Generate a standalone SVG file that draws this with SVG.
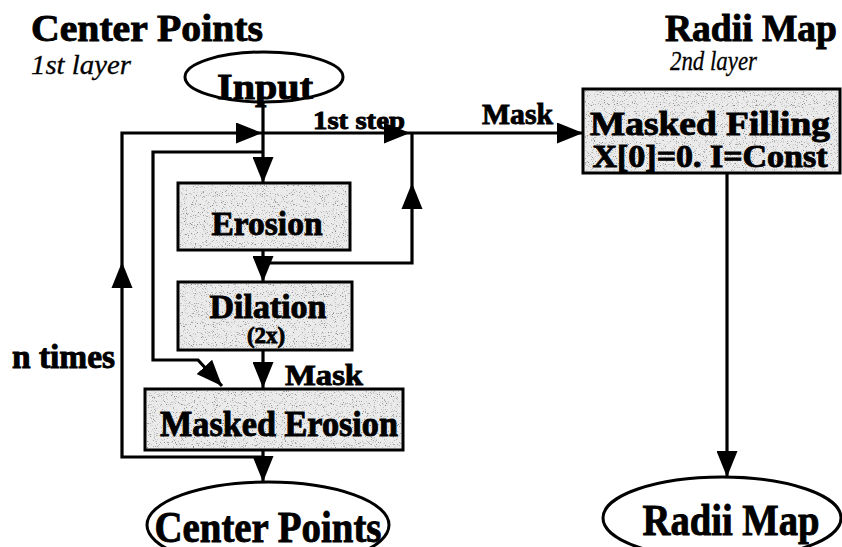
<svg xmlns="http://www.w3.org/2000/svg" width="842" height="547" viewBox="0 0 842 547">
  <style>
    .t { font-family: "Liberation Serif", "Times New Roman", serif; font-weight: bold; fill: #000; stroke: #000; stroke-width: 0.9; }
    .it { font-family: "Liberation Serif", "Times New Roman", serif; font-style: italic; fill: #000; stroke: #000; stroke-width: 0.3; }
    .box { fill: #ebebeb; stroke: #000; stroke-width: 3; }
    .oval { fill: #fff; stroke: #000; stroke-width: 3; }
    .wire { fill: none; stroke: #000; stroke-width: 3.2; }
    .head { fill: #000; }
  </style>
  <defs>
    <marker id="arrow" viewBox="0 0 26 21" refX="26" refY="10.5" markerWidth="26" markerHeight="21" markerUnits="userSpaceOnUse" orient="auto">
      <path d="M0,0 L26,10.5 L0,21 Z" fill="#000"/>
    </marker>
    <!-- grainy print texture for the process boxes -->
    <filter id="speckle" x="0" y="0" width="100%" height="100%">
      <feTurbulence type="fractalNoise" baseFrequency="0.9" numOctaves="2" seed="7" result="noise"/>
      <feColorMatrix in="noise" type="matrix" values="0 0 0 0 0.25  0 0 0 0 0.25  0 0 0 0 0.25  -5 0 0 0 2.05" result="dots"/>
      <feComposite in="dots" in2="SourceGraphic" operator="in"/>
    </filter>
  </defs>

  <!-- section headings -->
  <g id="heading-center">
    <text class="t" x="31" y="41" font-size="38" textLength="232" lengthAdjust="spacingAndGlyphs">Center Points</text>
    <text class="it" x="31" y="74" font-size="28" textLength="100" lengthAdjust="spacingAndGlyphs">1st layer</text>
  </g>
  <g id="heading-radii">
    <text class="t" x="665" y="41" font-size="38" textLength="172" lengthAdjust="spacingAndGlyphs">Radii Map</text>
    <text class="it" x="670" y="70" font-size="28" textLength="87" lengthAdjust="spacingAndGlyphs">2nd layer</text>
  </g>

  <!-- connectors -->
  <g id="connectors">
    <!-- input into erosion -->
    <path class="wire" d="M263,102 V183" marker-end="url(#arrow)"/>
    <!-- outer n-times loop back to the top line -->
    <path class="wire" d="M263,457 H122 V133 H262" marker-end="url(#arrow)"/>
    <polygon class="head" points="122,262 111.5,288 132.5,288"/>
    <!-- top line towards the second layer -->
    <path class="wire" d="M262,133 H410" marker-end="url(#arrow)"/>
    <path class="wire" d="M410,133 H583" marker-end="url(#arrow)"/>
    <!-- inner loop into masked erosion -->
    <path class="wire" d="M263,152 H153 V360 H198 L222,386" marker-end="url(#arrow)"/>
    <!-- erosion to dilation -->
    <path class="wire" d="M263,250 V282" marker-end="url(#arrow)"/>
    <!-- first step branch back up to the top line -->
    <path class="wire" d="M263,263 H412 V133"/>
    <polygon class="head" points="412,183 401.5,209 422.5,209"/>
    <!-- dilation to masked erosion -->
    <path class="wire" d="M263,350 V388" marker-end="url(#arrow)"/>
    <!-- masked erosion to center points -->
    <path class="wire" d="M263,450 V482" marker-end="url(#arrow)"/>
    <!-- masked filling to radii map -->
    <path class="wire" d="M727,173 V477" marker-end="url(#arrow)"/>
  </g>

  <!-- connector labels -->
  <g id="labels">
    <text class="t" x="313" y="129" font-size="26" textLength="92" lengthAdjust="spacingAndGlyphs">1st step</text>
    <text class="t" x="482" y="124" font-size="30" textLength="71" lengthAdjust="spacingAndGlyphs">Mask</text>
    <text class="t" x="285" y="385" font-size="29" textLength="78" lengthAdjust="spacingAndGlyphs">Mask</text>
    <text class="t" x="12" y="368" font-size="33" textLength="103" lengthAdjust="spacingAndGlyphs">n times</text>
  </g>

  <g id="input">
    <ellipse class="oval" cx="264" cy="77" rx="79" ry="25"/>
    <text class="t" x="265" y="99" font-size="36" text-anchor="middle" textLength="96" lengthAdjust="spacingAndGlyphs">Input</text>
  </g>

  <g id="erosion">
    <rect class="box" x="178" y="183" width="172" height="67"/>
    <rect x="179.5" y="184.5" width="169" height="64" filter="url(#speckle)"/>
    <text class="t" x="267" y="235" font-size="34" text-anchor="middle" textLength="111" lengthAdjust="spacingAndGlyphs">Erosion</text>
  </g>

  <g id="dilation">
    <rect class="box" x="178" y="282" width="174" height="68"/>
    <rect x="179.5" y="283.5" width="171" height="65" filter="url(#speckle)"/>
    <text class="t" x="268" y="318" font-size="33" text-anchor="middle" textLength="117" lengthAdjust="spacingAndGlyphs">Dilation</text>
    <text class="t" x="266" y="343" font-size="24" text-anchor="middle" textLength="38" lengthAdjust="spacingAndGlyphs">(2x)</text>
  </g>

  <g id="masked-erosion">
    <rect class="box" x="145" y="389" width="258" height="61"/>
    <rect x="146.5" y="390.5" width="255" height="58" filter="url(#speckle)"/>
    <text class="t" x="279" y="436" font-size="35" text-anchor="middle" textLength="238" lengthAdjust="spacingAndGlyphs">Masked Erosion</text>
  </g>

  <g id="center-points">
    <ellipse class="oval" cx="268" cy="525" rx="121" ry="43"/>
    <text class="t" x="268" y="542" font-size="45" text-anchor="middle" textLength="227" lengthAdjust="spacingAndGlyphs">Center Points</text>
  </g>

  <g id="masked-filling">
    <rect class="box" x="583" y="89" width="257" height="84"/>
    <rect x="584.5" y="90.5" width="254" height="81" filter="url(#speckle)"/>
    <text class="t" x="710" y="135" font-size="33" text-anchor="middle" textLength="240" lengthAdjust="spacingAndGlyphs">Masked Filling</text>
    <text class="t" x="710" y="167" font-size="31" text-anchor="middle" textLength="235" lengthAdjust="spacingAndGlyphs">X[0]=0. I=Const</text>
  </g>

  <g id="radii-map">
    <ellipse class="oval" cx="722" cy="518" rx="119" ry="41"/>
    <text class="t" x="731" y="535" font-size="45" text-anchor="middle" textLength="177" lengthAdjust="spacingAndGlyphs">Radii Map</text>
  </g>
</svg>
